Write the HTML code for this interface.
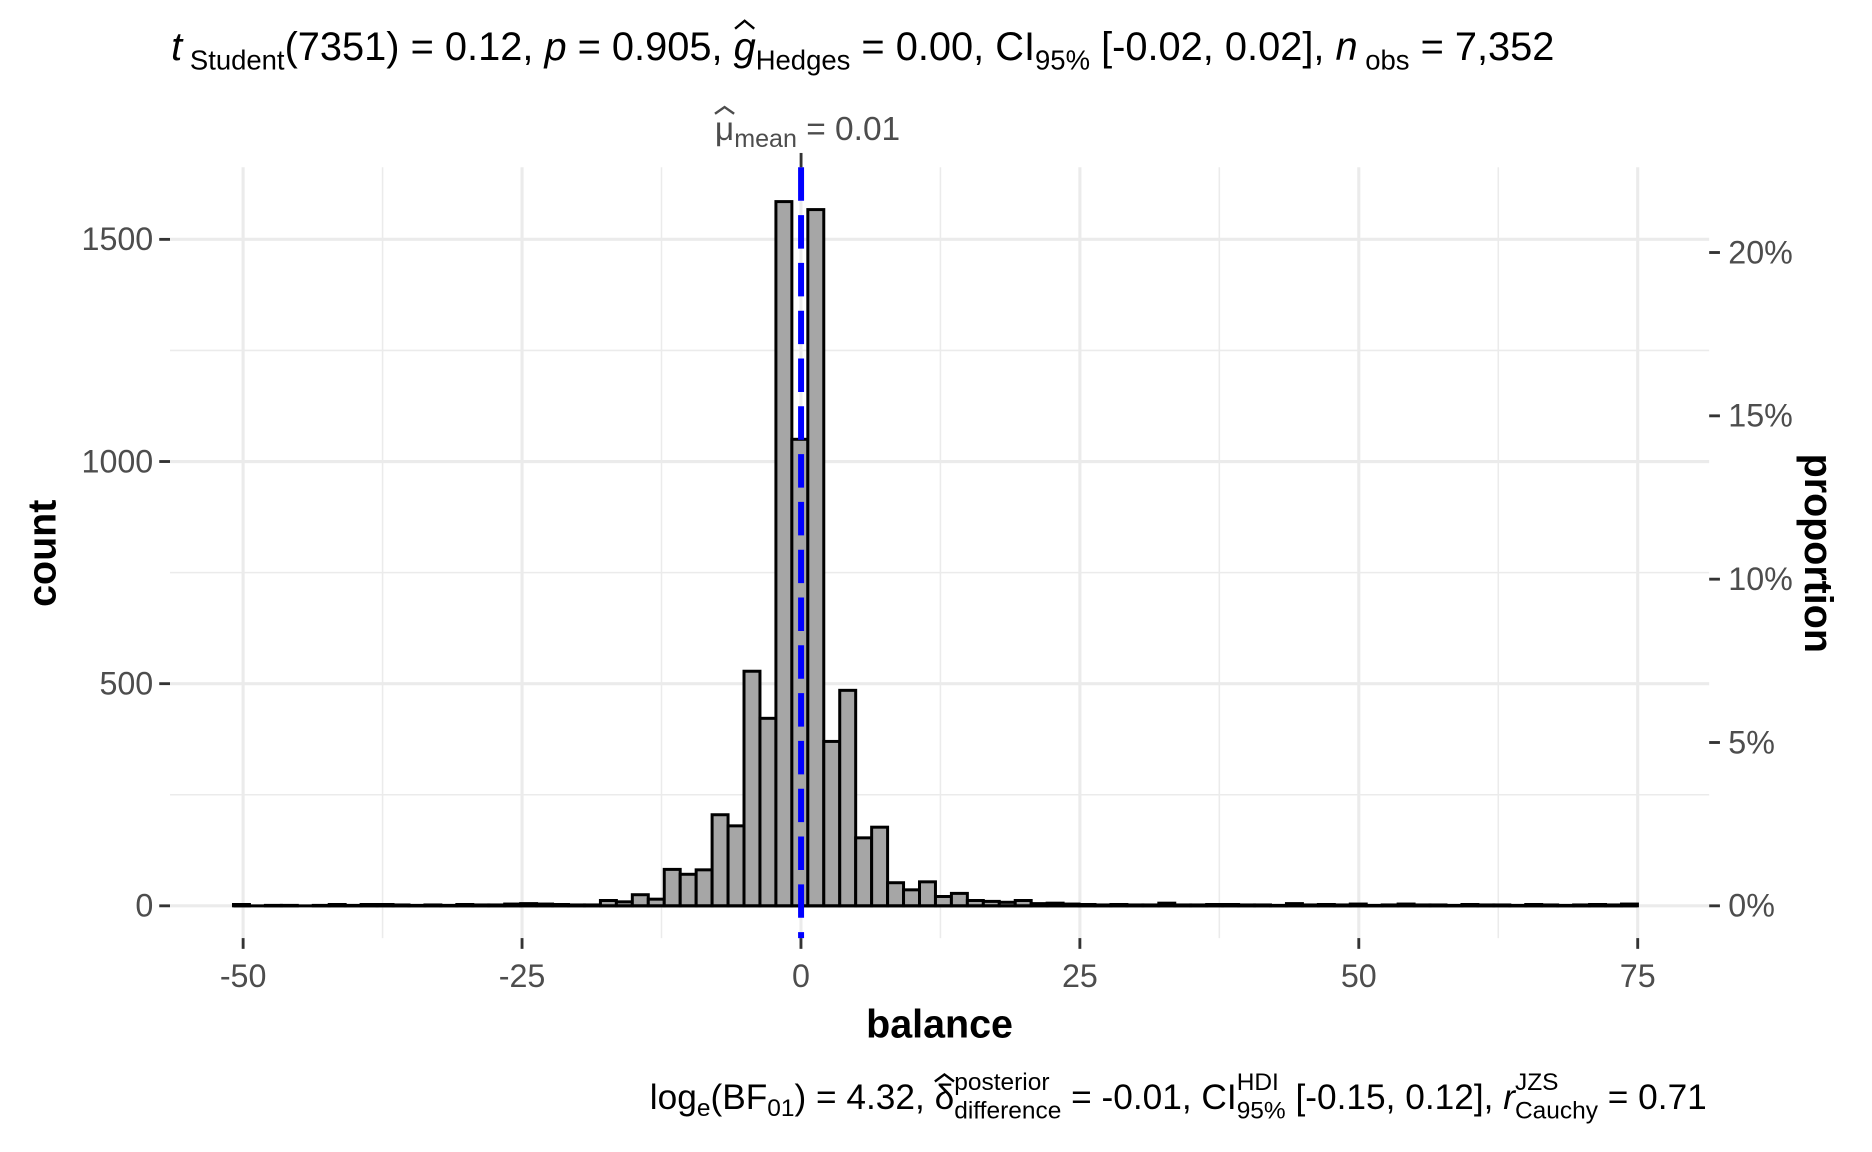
<!DOCTYPE html>
<html><head><meta charset="utf-8"><style>
html,body{margin:0;padding:0;background:#fff}
svg{display:block}
text{font-family:"Liberation Sans",sans-serif;white-space:pre}
</style></head><body>
<svg id="chart" width="1872" height="1152" viewBox="0 0 1566 964" xmlns="http://www.w3.org/2000/svg">
<rect width="1566" height="964" fill="#fff"/>
<g id="grid"></g>
<g id="bars"></g>
<g id="axes"></g>
<g id="title"></g>
<g id="meanlab"></g>
<g id="subtitle"></g>
<text x="786" y="868" font-size="33" font-weight="bold" text-anchor="middle">balance</text>
<text transform="translate(46,463) rotate(-90)" font-size="33" font-weight="bold" text-anchor="middle">count</text>
<text transform="translate(1510,463) rotate(90)" font-size="33" font-weight="bold" text-anchor="middle">proportion</text>
</svg>
<script>
const binCenterStart = -50.15;
const binWidth = 1.43;
const counts = [3,0,1,1,0,1,3,1,3,3,2,1,2,1,3,2,2,4,5,4,
3,2,2,12,9,25,15,82,71,81,205,180,528,422,1585,
1050,
1567,370,485,153,177,52,36,54,21,28,
12,10,8,12,5,6,4,3,2,3,2,2,6,2,2,3,3,2,2,1,5,2,3,2,4,1,2,4,2,2,1,3,2,2,1,3,2,1,2,3,2,4];
const xTicks = [-50,-25,0,25,50,75];
const yTicks = [0,500,1000,1500];
const propTicks = [0,0.05,0.10,0.15,0.20];
const propLabels = ["0%","5%","10%","15%","20%"];
const nObs = 7352;
const meanValue = 0.01;

const NS="http://www.w3.org/2000/svg";
const X = v => 670 + v*9.336;
const Y = c => 758 - c*0.3718;
const L=142, R=1430, T=140, B=785;
function mk(parent,tag,attrs){const e=document.createElementNS(NS,tag);for(const k in attrs)e.setAttribute(k,attrs[k]);parent.appendChild(e);return e;}
const grid=document.getElementById('grid'), bars=document.getElementById('bars'), axes=document.getElementById('axes');
for(let i=0;i<xTicks.length-1;i++){const v=(xTicks[i]+xTicks[i+1])/2;
 const g=mk(grid,'line',{x1:X(v),x2:X(v),y1:T,y2:B,stroke:'#ebebeb','stroke-width':1.3});
 
 }
for(let i=0;i<yTicks.length-1;i++){const v=yTicks[i]+250;
 const g=mk(grid,'line',{x1:L,x2:R,y1:Y(v),y2:Y(v),stroke:'#ebebeb','stroke-width':1.3});
 
 }
xTicks.forEach(v=>{
 const g=mk(grid,'line',{x1:X(v),x2:X(v),y1:T,y2:B,stroke:'#ebebeb','stroke-width':2.6});
 
 
 const t=mk(axes,'line',{x1:X(v),x2:X(v),y1:B,y2:B+9,stroke:'#333','stroke-width':2.4});
 
 
 const l=mk(axes,'text',{x:X(v),y:B+41,'font-size':27,fill:'#4d4d4d','text-anchor':'middle'});
 
 
 l.textContent=v;
});
yTicks.forEach(v=>{
 const g=mk(grid,'line',{x1:L,x2:R,y1:Y(v),y2:Y(v),stroke:'#ebebeb','stroke-width':2.6});
 
 
 const t=mk(axes,'line',{x1:L-9,x2:L,y1:Y(v),y2:Y(v),stroke:'#333','stroke-width':2.4});
 
 
 const l=mk(axes,'text',{x:L-14,y:Y(v)+9,'font-size':27,fill:'#4d4d4d','text-anchor':'end'});
 
 
 l.textContent=v;
});
propTicks.forEach((p,i)=>{
 const y=Y(p*nObs);
 const t=mk(axes,'line',{x1:R,x2:R+9,y1:y,y2:y,stroke:'#333','stroke-width':2.4});
 
 
 const l=mk(axes,'text',{x:R+16,y:y+9,'font-size':27,fill:'#4d4d4d'});
 
 
 l.textContent=propLabels[i];
});
counts.forEach((c,i)=>{
 const cx=binCenterStart+i*binWidth;
 const x0=X(cx-binWidth/2), x1=X(cx+binWidth/2);
 const r=mk(bars,'rect',{x:x0,y:Y(c),width:x1-x0,height:Y(0)-Y(c),fill:'#a6a6a6',stroke:'#000','stroke-width':2.5});
 
 
});
const bl=mk(bars,'line',{x1:X(binCenterStart-binWidth/2),x2:X(binCenterStart+(counts.length-0.5)*binWidth),y1:Y(0),y2:Y(0),stroke:'#000','stroke-width':2.5});


const ml=mk(axes,'line',{x1:X(meanValue),x2:X(meanValue),y1:T,y2:B,stroke:'#0000ff','stroke-width':5,'stroke-dasharray':'28 12'});


const mt=mk(axes,'line',{x1:X(meanValue),x2:X(meanValue),y1:T-12,y2:T,stroke:'#333','stroke-width':2.4});



function measure(g,p){const e=mk(g,'text',{x:0,y:-1000,'font-size':p.fs});if(p.it)e.setAttribute('font-style','italic');e.textContent=p.t;const w=e.getComputedTextLength();g.removeChild(e);return w;}
function layout(gid,x,y,pieces,anchor,fill){
 const g=document.getElementById(gid);
 const widths=pieces.map(p=>p.stack?Math.max(measure(g,p.stack[0]),measure(g,p.stack[1])):measure(g,p));
 const total=widths.reduce((a,b)=>a+b,0);
 let cx=anchor==='end'?x-total:(anchor==='middle'?x-total/2:x);
 pieces.forEach((p,i)=>{
  const items=p.stack?p.stack:[p];
  items.forEach(q=>{
   const e=mk(g,'text',{x:cx,y:y+(q.dy||0),'font-size':q.fs,fill:fill});
   if(q.it)e.setAttribute('font-style','italic');
   
   
   e.textContent=q.t;
   if(q.hat){const w=measure(g,q);const hx=cx+w/2;
    const h=mk(g,'path',{d:`M${hx-8} ${y-q.fs*0.78} L${hx} ${y-q.fs*0.98} L${hx+8} ${y-q.fs*0.78}`,stroke:fill,'stroke-width':2,fill:'none'});
    
    }
  });
  cx+=widths[i];
 });
}
const F=33.3,S=23;
layout('title',143,50,[
 {t:'t',fs:F,it:true},{t:' Student',fs:S,dy:8},{t:'(7351) = 0.12, ',fs:F},{t:'p',fs:F,it:true},{t:' = 0.905, ',fs:F},
 {t:'g',fs:F,it:true,hat:true},{t:'Hedges',fs:S,dy:8},{t:' = 0.00, CI',fs:F},{t:'95%',fs:S,dy:8},{t:' [-0.02, 0.02], ',fs:F},
 {t:'n',fs:F,it:true},{t:' obs',fs:S,dy:8},{t:' = 7,352',fs:F}],'start','#000');
layout('meanlab',598,117,[{t:'μ',fs:28,hat:true},{t:'mean',fs:21,dy:6},{t:' = 0.01',fs:28}],'start','#4d4d4d');
const G=29.5,s=20.5;
layout('subtitle',1428,928,[
 {t:'log',fs:G},{t:'e',fs:s,dy:6},{t:'(BF',fs:G},{t:'01',fs:s,dy:6},{t:') = 4.32, ',fs:G},
 {t:'δ',fs:G,hat:true},{stack:[{t:'posterior',fs:s,dy:-16},{t:'difference',fs:s,dy:8}]},{t:' = -0.01, CI',fs:G},
 {stack:[{t:'HDI',fs:s,dy:-16},{t:'95%',fs:s,dy:8}]},{t:' [-0.15, 0.12], ',fs:G},{t:'r',fs:G,it:true},
 {stack:[{t:'JZS',fs:s,dy:-16},{t:'Cauchy',fs:s,dy:8}]},{t:' = 0.71',fs:G}],'end','#000');
</script>
</body></html>
